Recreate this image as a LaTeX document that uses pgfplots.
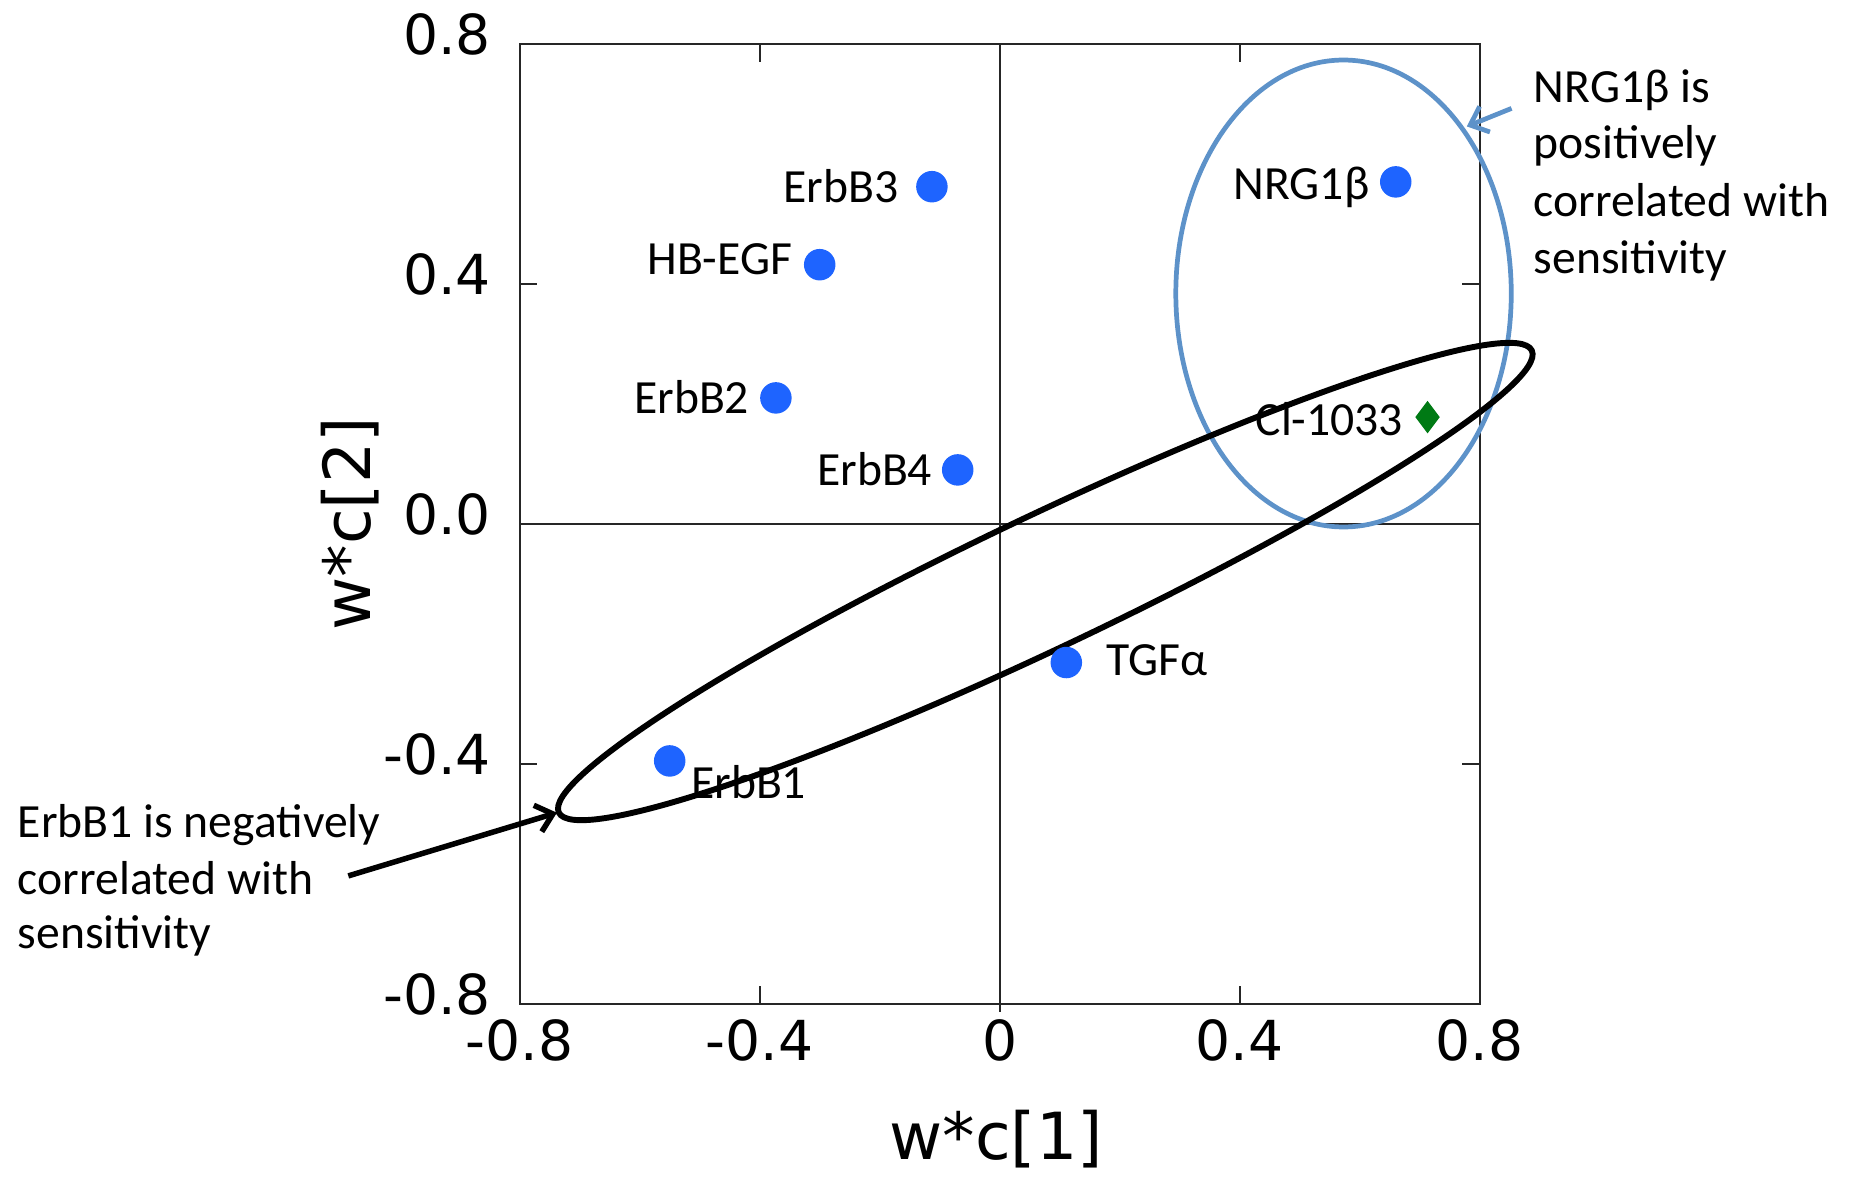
\documentclass[border=0pt]{standalone}
\usepackage{fontspec}
\setmainfont{Carlito}
\newfontfamily\tickfont{DejaVu Sans}
\usepackage{pgfplots}
\pgfplotsset{compat=1.18}
\usetikzlibrary{arrows.meta}

\definecolor{ptblue}{RGB}{30,100,255}
\definecolor{ptgreen}{RGB}{0,122,20}
\definecolor{ringblue}{RGB}{93,146,201}

\newcommand{\annfont}{\fontsize{12.1}{14.5}\selectfont}
\newcommand{\tickfontsize}{\tickfont\fontsize{14}{16}\selectfont}

\begin{document}
\begin{tikzpicture}
\path[use as bounding box] (-132pt,-43.8pt) rectangle (338.4pt,255pt);
\begin{axis}[
  scale only axis,
  width=243.84pt, height=243.84pt,
  xmin=-0.8, xmax=0.8, ymin=-0.8, ymax=0.8,
  clip=false,
  axis line style={line width=0.5pt, black!85},
  xtick={-0.8,-0.4,0,0.4,0.8},
  xticklabels={-0.8,-0.4,0,0.4,0.8},
  ytick={-0.8,-0.4,0,0.4,0.8},
  yticklabels={-0.8,-0.4,0.0,0.4,0.8},
  tick align=inside,
  major tick length=4.5pt,
  tick style={line width=0.5pt, black!85},
  xticklabel style={font=\tickfontsize, inner sep=0pt, anchor=north, yshift=-3.8pt},
  yticklabel style={font=\tickfontsize, inner sep=0pt, anchor=east, xshift=-7.1pt, yshift=2.5pt},
]

% zero lines
\draw[line width=0.5pt, black!85] (axis cs:0,-0.8) -- ([yshift=-2pt]axis cs:0,-0.8);
\draw[line width=0.5pt, black!85] (axis cs:0,-0.8) -- (axis cs:0,0.8);
\draw[line width=0.5pt, black!85] (axis cs:-0.8,0) -- (axis cs:0.8,0);

% ligands and receptors
\addplot[only marks, mark=*, mark size=3.8pt, color=ptblue,
  point meta=explicit symbolic,
  visualization depends on={value \thisrow{anc}\as\anc},
  visualization depends on={value \thisrow{dx}\as\dx},
  visualization depends on={value \thisrow{dy}\as\dy},
  nodes near coords,
  nodes near coords style={anchor=\anc, xshift=\dx pt, yshift=\dy pt,
    text=black, font=\annfont, inner sep=0pt}]
table[meta=label] {
x       y       label    anc        dx     dy
-0.113  0.562   ErbB3    {base east} -8.3  -3.9
-0.300  0.432   HB-EGF   {base east} -6.8  -2.5
-0.373  0.210   ErbB2    {base east} -6.6  -3.9
-0.070  0.090   ErbB4    {base east} -6.3  -3.9
0.660   0.570   NRG1β    {base east} -6.5  -4.4
0.111   -0.231  TGFα     {base west} 10.0  -3.4
-0.550  -0.395  ErbB1    {base west} 5.25  -9.6
};

% inhibitor
\addplot[only marks, mark=diamond*, mark size=3.8pt, color=ptgreen,
  point meta=explicit symbolic,
  nodes near coords,
  nodes near coords style={anchor=base east, xshift=-6pt, yshift=-4.75pt,
    text=black, font=\annfont, inner sep=0pt}]
table[meta=label] {
x      y      label
0.713  0.178  Cl-1033
};

% highlighted groups
\draw[ringblue, line width=1.2pt] (axis cs:0.573,0.384) ellipse [x radius=42.6pt, y radius=59.3pt];
\draw[black, line width=1.5pt, rotate around={25.4:(axis cs:0.076,-0.096)}]
  (axis cs:0.076,-0.096) ellipse [x radius=136.8pt, y radius=16.8pt];

% callouts
\draw[ringblue, line width=1.2pt, -{Straight Barb[length=4pt,width=7pt]}]
  (axis cs:0.853,0.6925) -- (axis cs:0.7785,0.6624);
\draw[black, line width=1.4pt, -{Straight Barb[length=4pt,width=7pt]}]
  (axis cs:-1.0856,-0.5866) -- (axis cs:-0.738,-0.4813);

\begin{scope}[every node/.style={anchor=base west, inner sep=0pt, font=\annfont}]
\node at (axis cs:0.8888,0.7022) {NRG1β is};
\node at (axis cs:0.8888,0.6083) {positively};
\node at (axis cs:0.8888,0.5128) {correlated with};
\node at (axis cs:0.8888,0.4169) {sensitivity};
\node at (axis cs:-1.6376,-0.5220) {ErbB1 is negatively};
\node at (axis cs:-1.6376,-0.6170) {correlated with};
\node at (axis cs:-1.6376,-0.7075) {sensitivity};
\end{scope}

% axis titles
\node[anchor=base, inner sep=0pt, font=\tickfont\fontsize{16.5}{19}\selectfont]
  at ([yshift=-39.45pt]axis cs:-0.006,-0.8) {w*c[1]};
\node[anchor=base, rotate=90, inner sep=0pt, font=\tickfont\fontsize{16.5}{19}\selectfont]
  at ([xshift=-38pt]axis cs:-0.8,0) {w*c[2]};
\end{axis}
\end{tikzpicture}
\end{document}
